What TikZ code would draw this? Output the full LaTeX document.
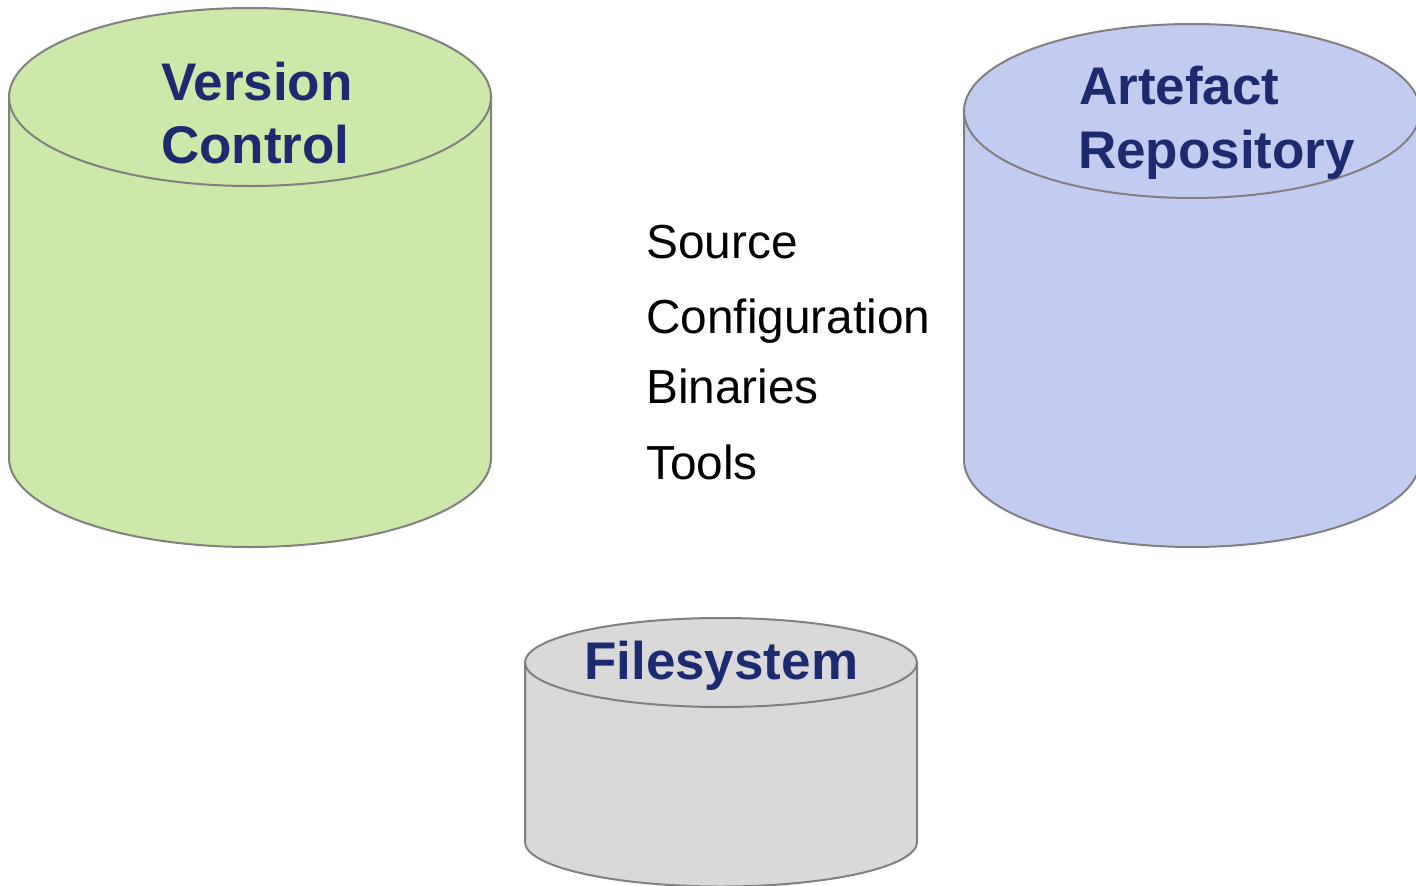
\documentclass[tikz,border=0pt]{standalone}
\usepackage{fontspec}
\setmainfont{Liberation Sans}
\definecolor{vcgreen}{RGB}{205,233,169}
\definecolor{repoblue}{RGB}{194,204,240}
\definecolor{fsgray}{RGB}{217,217,217}
\definecolor{rimgray}{RGB}{128,128,128}
\definecolor{titlenavy}{RGB}{28,43,112}
\tikzset{
  rim/.style={draw=rimgray, line width=2pt},
  title/.style={anchor=base west, inner sep=0pt, text=titlenavy,
    font=\fontsize{53}{63}\selectfont\bfseries},
  item/.style={anchor=base west, inner sep=0pt, text=black,
    font=\fontsize{47.8}{56}\selectfont},
}
% #1 fill, #2 centre x, #3 top-ellipse centre y, #4 bottom-ellipse centre y, #5 rx, #6 ry
\newcommand{\storecyl}[6]{%
  \path[rim, fill=#1]
    (#2-#5, #3) -- (#2-#5, #4)
    arc[start angle=180, end angle=360, x radius=#5pt, y radius=#6pt]
    -- (#2+#5, #3) -- cycle;
  \path[rim, fill=#1] (#2, #3) ellipse[x radius=#5pt, y radius=#6pt];
}
\begin{document}
\begin{tikzpicture}[x=1pt, y=-1pt]
  \useasboundingbox (0,0) rectangle (1416,886);

  % storage cylinders
  \storecyl{vcgreen}{250}{97}{458}{241}{89}
  \storecyl{repoblue}{1192}{111}{460}{228}{87}
  \storecyl{fsgray}{721}{662.5}{842}{196}{44.5}

  % cylinder titles
  \node[title] (vc1) at (161,100) {Version};
  \node[title] (vc2) at (161,163) {Control};
  \node[title] (ar1) at (1079,104) {Artefact};
  \node[title] (ar2) at (1078,168) {Repository};
  \node[title] (fs)  at (584,679) {Filesystem};

  % stored content
  \node[item] (src) at (646,258) {Source};
  \node[item] (cfg) at (646,333) {Configuration};
  \node[item] (bin) at (646,403) {Binaries};
  \node[item] (tls) at (646,479) {Tools};
\end{tikzpicture}
\end{document}
